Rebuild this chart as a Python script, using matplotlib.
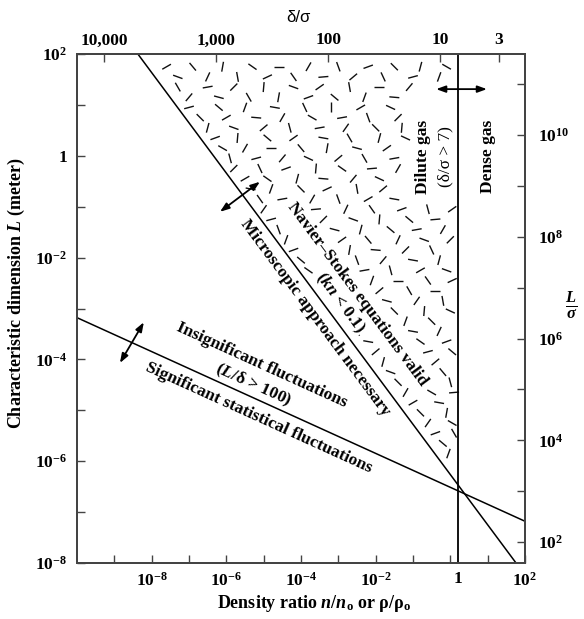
import numpy as np
import matplotlib
matplotlib.use("Agg")
import matplotlib.pyplot as plt
from matplotlib.ticker import FixedLocator, FuncFormatter, NullLocator
from matplotlib.collections import LineCollection

plt.rcParams['font.family'] = ['Liberation Serif', 'DejaVu Serif']
plt.rcParams['font.weight'] = 'bold'
plt.rcParams['mathtext.fontset'] = 'custom'
plt.rcParams['mathtext.rm'] = 'Liberation Serif:bold'
plt.rcParams['mathtext.it'] = 'Liberation Serif:bold:italic'
plt.rcParams['mathtext.bf'] = 'Liberation Serif:bold'

# ---------------- data ----------------
density_lim = [1e-10, 1e2]          # n/n0
length_lim = [1e-8, 1e2]            # L (m)
sigma = 10 ** -9.59                 # molecular diameter (m)  -> right axis L/sigma
delta_coef = 8.13                   # delta/sigma = coef * (n/n0)^(-1/3) -> top axis

ns_line_n = [10 ** -8.37, 10 ** 1.76]       # Kn = 0.1 boundary
ns_line_L = [1e2, 1e-8]
fluct_line_n = [1e-10, 1e2]                 # L/delta = 100 boundary
fluct_line_L = [10 ** -3.18, 10 ** -7.18]
dense_boundary_n = 10 ** 0.2                # delta/sigma = 7

bottom_tick_exps = list(range(-9, 3))
bottom_label_exps = [-8, -6, -4, -2, 2]     # "1" is written under the dense-gas boundary
left_tick_exps = list(range(-8, 3))
left_label_exps = [-8, -6, -4, -2, 0, 2]
right_tick_exps = list(range(2, 12))
right_label_exps = [2, 4, 6, 8, 10]
top_ticks = [10000, 1000, 100, 10, 3]
top_labels = ['10,000', '1,000', '100', '10', '3']

# double arrows: (log n start, log L start, log n end, log L end)
arrow_ns = (-6.17, -1.10, -5.10, -0.51)
arrow_fluct = (-8.85, -4.07, -8.21, -3.27)
arrow_dense = (-0.38, 1.31, 0.98, 1.31)

# molecule dashes: (log n, log L, angle deg)
dashes = [
    (-7.6, 1.75, 30), (-6.9, 1.75, -50), (-6.1, 1.75, 80), (-5.3, 1.75, -35), (-4.6, 1.75, 0),
    (-3.8, 1.75, 60), (-3.0, 1.75, -70), (-2.2, 1.75, 20), (-1.5, 1.75, -45), (-0.8, 1.75, 75), (-0.1, 1.75, -30),
    (-7.3, 1.55, -20), (-6.5, 1.55, 65), (-5.7, 1.55, -80), (-4.9, 1.55, 25), (-4.2, 1.55, -55),
    (-3.4, 1.55, 5), (-2.6, 1.55, 40), (-1.8, 1.55, -65), (-1.0, 1.55, 15), (-0.3, 1.55, 70),
    (-7.3, 1.35, -60), (-6.5, 1.35, 10), (-5.8, 1.35, 45), (-5.0, 1.35, 85), (-4.2, 1.35, -20),
    (-3.5, 1.35, 35), (-2.7, 1.35, -80), (-1.9, 1.35, 0), (-1.1, 1.35, 50),
    (-7.0, 1.15, 50), (-6.2, 1.15, -15), (-5.4, 1.15, -60), (-4.6, 1.15, 80), (-3.8, 1.15, 20),
    (-3.1, 1.15, -40), (-2.3, 1.15, 70), (-1.5, 1.15, -5),
    (-7.0, 0.95, 15), (-6.2, 0.95, -40), (-5.5, 0.95, 70), (-4.7, 0.95, -10), (-3.9, 0.95, -65),
    (-3.2, 0.95, 90), (-2.4, 0.95, 30), (-1.6, 0.95, -25),
    (-6.7, 0.75, -45), (-6.0, 0.75, 30), (-5.2, 0.75, -5), (-4.5, 0.75, 60), (-3.7, 0.75, -30),
    (-2.9, 0.75, 10), (-2.2, 0.75, -70), (-1.4, 0.75, 45),
    (-6.5, 0.55, 75), (-5.8, 0.55, -20), (-5.0, 0.55, 40), (-4.3, 0.55, -75), (-3.5, 0.55, 10),
    (-2.8, 0.55, 55), (-2.0, 0.55, -45), (-1.3, 0.55, 85),
    (-6.3, 0.35, 20), (-5.7, 0.35, 85), (-4.9, 0.35, -40), (-4.2, 0.35, 35), (-3.4, 0.35, -10),
    (-2.7, 0.35, -60), (-1.9, 0.35, 75), (-1.2, 0.35, -25),
    (-6.1, 0.15, -30), (-5.5, 0.15, 60), (-4.8, 0.15, 0), (-4.0, 0.15, -50), (-3.3, 0.15, 80),
    (-2.5, 0.15, -15), (-1.7, 0.15, 35),
    (-5.9, -0.05, -75), (-5.2, -0.05, 15), (-4.5, -0.05, 50), (-3.8, -0.05, -25), (-3.0, -0.05, 40),
    (-2.3, -0.05, -60), (-1.5, -0.05, 10),
    (-5.8, -0.25, 45), (-5.1, -0.25, -65), (-4.4, -0.25, 20), (-3.6, -0.25, 85), (-2.9, -0.25, -35),
    (-2.1, -0.25, 5), (-1.4, -0.25, 60),
    (-5.5, -0.45, 30), (-4.9, -0.45, -35), (-4.1, -0.45, 75), (-3.4, -0.45, -5), (-2.6, -0.45, 50),
    (-1.9, -0.45, -25),
    (-5.35, -0.65, -10), (-4.8, -0.65, 70), (-4.0, -0.65, -45), (-3.3, -0.65, 25), (-2.5, -0.65, -80),
    (-1.8, -0.65, 40),
    (-5.1, -0.85, -55), (-4.5, -0.85, 10), (-3.7, -0.85, 60), (-3.0, -0.85, -70), (-2.2, -0.85, 30),
    (-1.5, -0.85, -10),
    (-5.0, -1.05, 55), (-4.3, -1.05, -25), (-3.6, -1.05, 5), (-2.8, -1.05, 65), (-2.1, -1.05, -55),
    (-1.3, -1.05, 20), (-0.6, -1.05, -75), (0.05, -1.05, 35),
    (-4.8, -1.25, 15), (-4.1, -1.25, -60), (-3.4, -1.25, 45), (-2.6, -1.25, -20), (-1.9, -1.25, 85),
    (-1.1, -1.25, -40), (-0.4, -1.25, 5),
    (-4.6, -1.45, -70), (-3.9, -1.45, 35), (-3.1, -1.45, -15), (-2.4, -1.45, 75), (-1.6, -1.45, -40),
    (-0.9, -1.45, 10), (-0.2, -1.45, 60),
    (-4.4, -1.65, 70), (-3.7, -1.65, -15), (-2.9, -1.65, 35), (-2.2, -1.65, -50), (-1.4, -1.65, 65),
    (-0.7, -1.65, -20), (0.0, -1.65, 45),
    (-4.2, -1.85, 20), (-3.5, -1.85, -55), (-2.7, -1.85, 80), (-2.0, -1.85, -5), (-1.2, -1.85, 45),
    (-0.5, -1.85, -65),
    (-4.0, -2.05, -40), (-3.3, -2.05, 20), (-2.5, -2.05, -70), (-1.8, -2.05, 50), (-1.0, -2.05, -10),
    (-0.3, -2.05, 75),
    (-3.8, -2.25, -35), (-3.1, -2.25, 65), (-2.3, -2.25, 10), (-1.6, -2.25, -75), (-0.8, -2.25, 30),
    (-0.1, -2.25, -20),
    (-3.6, -2.45, 10), (-2.9, -2.45, -45), (-2.1, -2.45, 70), (-1.4, -2.45, 0), (-0.6, -2.45, -55),
    (0.05, -2.45, 25),
    (-3.3, -2.65, 75), (-2.6, -2.65, -30), (-1.9, -2.65, 40), (-1.1, -2.65, -60), (-0.4, -2.65, 0),
    (-3.1, -2.85, -65), (-2.4, -2.85, 30), (-1.7, -2.85, -15), (-0.9, -2.85, 55), (-0.2, -2.85, -80),
    (-2.9, -3.05, 0), (-2.2, -3.05, 55), (-1.5, -3.05, -45), (-0.7, -3.05, 85), (0.0, -3.05, -25),
    (-2.7, -3.25, 45), (-2.0, -3.25, -25), (-1.2, -3.25, 70), (-0.5, -3.25, -45),
    (-2.5, -3.45, -60), (-1.8, -3.45, 20), (-1.0, -3.45, -10), (-0.3, -3.45, 65),
    (-2.2, -3.65, -10), (-1.5, -3.65, 55), (-0.8, -3.65, -35), (-0.1, -3.65, 20),
    (-2.0, -3.85, 40), (-1.3, -3.85, -70), (-0.6, -3.85, 15), (0.05, -3.85, -40),
    (-1.8, -4.05, 75), (-1.1, -4.05, -20), (-0.4, -4.05, 40),
    (-1.6, -4.25, -20), (-0.9, -4.25, 70), (-0.2, -4.25, -50),
    (-1.4, -4.45, -45), (-0.7, -4.45, 15), (0.0, -4.45, -75),
    (-1.2, -4.65, 60), (-0.5, -4.65, -30), (0.1, -4.65, 5),
    (-1.0, -4.85, 30), (-0.3, -4.85, -10),
    (-0.8, -5.05, -45), (-0.1, -5.05, 80),
    (-0.6, -5.25, 55), (0.05, -5.25, -30),
    (-0.4, -5.45, 20), (0.1, -5.45, -60),
    (-0.2, -5.65, -40),
    (-0.05, -5.85, 70),
]

# ---------------- figure ----------------
W, H = 584, 619
fig = plt.figure(figsize=(W / 100, H / 100), dpi=100)
ax = fig.add_axes([77 / W, 56 / H, 448 / W, 509 / H])
ax.set_xscale('log')
ax.set_yscale('log')
ax.set_xlim(*density_lim)
ax.set_ylim(*length_lim)

frame_color = '#444444'
tick_kw = dict(direction='in', length=6, width=1.0, color=frame_color, labelsize=12.5)


def pow_label(e):
    return '1' if e == 0 else r'$10^{%d}$' % e


def exp_formatter(allowed):
    def f(v, p):
        e = int(round(np.log10(v)))
        return pow_label(e) if e in allowed else ''
    return FuncFormatter(f)


ax.xaxis.set_major_locator(FixedLocator([10.0 ** e for e in bottom_tick_exps]))
ax.xaxis.set_major_formatter(exp_formatter(bottom_label_exps))
ax.xaxis.set_minor_locator(NullLocator())
ax.yaxis.set_major_locator(FixedLocator([10.0 ** e for e in left_tick_exps]))
ax.yaxis.set_major_formatter(exp_formatter(left_label_exps))
ax.yaxis.set_minor_locator(NullLocator())
ax.tick_params(axis='x', pad=6, **tick_kw)
ax.tick_params(axis='y', pad=7, **tick_kw)
# the "1" label of the density axis sits under the dense-gas boundary line
ax.annotate('1', xy=(dense_boundary_n, 0), xycoords=('data', 'axes fraction'),
            xytext=(0, -6), textcoords='offset points', ha='center', va='top',
            fontsize=12.5, fontweight='bold')

# right axis L/sigma
axr = ax.twinx()
axr.set_yscale('log')
axr.set_ylim(length_lim[0] / sigma, length_lim[1] / sigma)
axr.yaxis.set_major_locator(FixedLocator([10.0 ** e for e in right_tick_exps]))
axr.yaxis.set_major_formatter(exp_formatter(right_label_exps))
axr.yaxis.set_minor_locator(NullLocator())
axr.tick_params(axis='y', pad=9, **tick_kw)

# top axis delta/sigma
axt = ax.twiny()
axt.set_xscale('log')
axt.set_xlim(delta_coef * density_lim[0] ** (-1 / 3), delta_coef * density_lim[1] ** (-1 / 3))
axt.xaxis.set_major_locator(FixedLocator(top_ticks))
axt.xaxis.set_major_formatter(FuncFormatter(
    lambda v, p: top_labels[top_ticks.index(int(round(v)))] if int(round(v)) in top_ticks else ''))
axt.xaxis.set_minor_locator(NullLocator())
axt.tick_params(axis='x', pad=4, **tick_kw)

for a in (ax, axr, axt):
    for s in a.spines.values():
        s.set_color(frame_color)
        s.set_linewidth(1.3)

# axis titles
ax.set_xlabel(r'Density ratio $n/n_{\mathrm{o}}$ or ρ/ρ$_{\mathrm{o}}$', fontsize=13, fontweight='bold')
ax.xaxis.set_label_coords(0.53, -0.058)
ax.set_ylabel(r'Characteristic dimension $L$ (meter)', fontsize=13, fontweight='bold')
ax.yaxis.set_label_coords(-0.112, 0.53)
ax.text(0.495, 1.071, 'δ/σ', transform=ax.transAxes, ha='center', va='center',
        fontsize=12, fontweight='normal', family=['Liberation Sans', 'DejaVu Sans'])
ax.text(1.104, 0.507, r'$\frac{L}{\sigma}$', transform=ax.transAxes, ha='center', va='center',
        fontsize=17)

# boundary lines
ax.plot(ns_line_n, ns_line_L, color='black', lw=1.1)
ax.plot(fluct_line_n, fluct_line_L, color='black', lw=1.1)
ax.plot([dense_boundary_n, dense_boundary_n], length_lim, color='black', lw=1.3)


def line_angle(xs, ys):
    p = ax.transData.transform(np.column_stack([xs, ys]))
    return np.degrees(np.arctan2(p[1, 1] - p[0, 1], p[1, 0] - p[0, 0]))


ang_ns = line_angle(ns_line_n, ns_line_L)
ang_fl = line_angle(fluct_line_n, fluct_line_L)

# molecule dashes (fixed pixel length)
segs = []
half = 5.0
for lx, ly, a in dashes:
    c = ax.transData.transform((10 ** lx, 10 ** ly))
    d = np.array([np.cos(np.radians(a)), np.sin(np.radians(a))]) * half
    p = ax.transData.inverted().transform(np.vstack([c - d, c + d]))
    segs.append(p)
ax.add_collection(LineCollection(segs, colors='#111111', linewidths=1.0, zorder=1))

# arrows
for (x0, y0, x1, y1) in (arrow_ns, arrow_fluct, arrow_dense):
    ax.annotate('', xy=(10 ** x1, 10 ** y1), xytext=(10 ** x0, 10 ** y0),
                arrowprops=dict(arrowstyle='<|-|>,head_length=0.55,head_width=0.2',
                                color='black', lw=1.3, shrinkA=0, shrinkB=0))

wb = dict(facecolor='white', edgecolor='none', pad=1.0)
tk = dict(ha='center', va='center', rotation_mode='anchor', fontsize=12.5, fontweight='bold')
ax.text(10 ** -2.50, 10 ** -2.72, 'Navier–Stokes equations valid', rotation=ang_ns, bbox=wb, zorder=3, **tk)
ax.text(10 ** -2.955, 10 ** -2.89, r'($kn$ < 0.1)', rotation=ang_ns, bbox=wb, zorder=3, **tk)
ax.text(10 ** -3.62, 10 ** -3.19, 'Microscopic approach necessary', rotation=ang_ns, **tk)
ax.text(10 ** -5.04, 10 ** -4.11, 'Insignificant fluctuations', rotation=ang_fl, **tk)
ax.text(10 ** -5.29, 10 ** -4.50, r'($L$/δ > 100)', rotation=ang_fl, **tk)
ax.text(10 ** -5.12, 10 ** -5.15, 'Significant statistical fluctuations', rotation=ang_fl, **tk)
ax.text(10 ** -0.73, 10 ** -0.02, 'Dilute gas', rotation=90, bbox=wb, zorder=3, **tk)
ax.text(10 ** -0.14, 10 ** -0.02, '(δ/σ > 7)', rotation=90, bbox=wb, zorder=3,
        **{**tk, 'fontweight': 'normal'})
ax.text(10 ** 1.01, 10 ** -0.02, 'Dense gas', rotation=90, **tk)

fig.savefig('out.png', dpi=100)
